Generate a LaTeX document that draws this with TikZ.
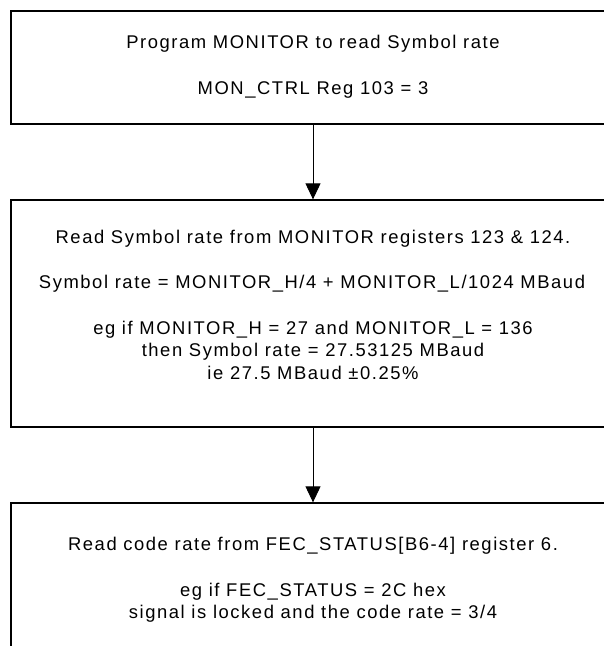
\documentclass[tikz,border=0pt]{standalone}
\usepackage{fontspec}
\setmainfont{Liberation Sans}[LetterSpace=8.5]
\usetikzlibrary{arrows.meta}
\begin{document}
\begin{tikzpicture}[x=1pt,y=-1pt,
  flowbox/.style={draw=black,line width=1.3pt,rectangle,inner sep=0pt,minimum width=604pt},
  txt/.style={inner sep=0pt,font=\fontsize{18.4}{22}\selectfont,anchor=center},
  arr/.style={draw=black,line width=0.9pt,-{Triangle[width=15pt,length=16pt]}}]
\useasboundingbox (0,0) rectangle (604,646);
\clip (0,0) rectangle (604,646);
\node[flowbox,minimum height=113pt] (b1) at (313,67.5) {};
\node[flowbox,minimum height=227pt] (b2) at (313,313.5) {};
\node[flowbox,minimum height=200pt] (b3) at (313,603) {};
\node[txt] (t11) at (313,44) {Program MONITOR to read Symbol rate};
\node[txt] (t12) at (313,90) {MON\_CTRL Reg 103 = 3};
\node[txt] (t21) at (313,239) {Read Symbol rate from MONITOR registers 123 \& 124.};
\node[txt] (t22) at (312,284) {Symbol rate = MONITOR\_H/4 + MONITOR\_L/1024 MBaud};
\node[txt] (t23) at (313,330) {eg if MONITOR\_H = 27 and MONITOR\_L = 136};
\node[txt] (t24) at (313,351.5) {then Symbol rate = 27.53125 MBaud};
\node[txt] (t25) at (313,373) {ie 27.5 MBaud ±0.25\%};
\node[txt] (t31) at (313,546) {Read code rate from FEC\_STATUS[B6-4] register 6.};
\node[txt] (t32) at (313,592) {eg if FEC\_STATUS = 2C hex};
\node[txt] (t33) at (313,614) {signal is locked and the code rate = 3/4};
\draw[arr] (b1.south) -- (b2.north);
\draw[arr] (b2.south) -- (b3.north);
\end{tikzpicture}
\end{document}
